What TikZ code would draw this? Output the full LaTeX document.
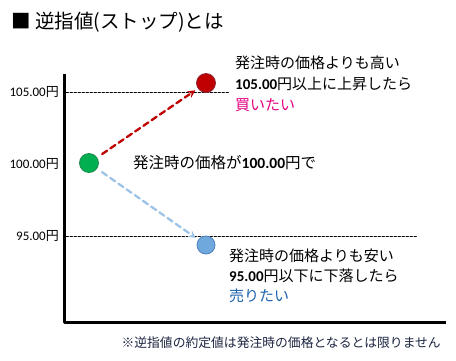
\documentclass[tikz,border=0pt]{standalone}
\usepackage{fontspec}
\setmainfont{Noto Sans CJK JP}
\newfontfamily\numfont{Carlito}
\definecolor{buyred}{HTML}{C00000}
\definecolor{buyedge}{HTML}{8C2A3A}
\definecolor{startgreen}{HTML}{00B050}
\definecolor{startedge}{HTML}{1E8A4E}
\definecolor{sellblue}{HTML}{6FA8DC}
\definecolor{selledge}{HTML}{4F81BD}
\definecolor{sellarrow}{HTML}{9DC3E6}
\definecolor{buypink}{HTML}{E4007F}
\definecolor{selltext}{HTML}{1B63AE}
\definecolor{notecolor}{HTML}{1C2541}
\tikzset{
  price/.style = {circle, inner sep = 0pt, minimum size = 19pt, line width = 0.8pt},
  level/.style = {line width = 0.7pt, dash pattern = on 2.5pt off 1.5pt},
  ylabel/.style = {anchor = east, inner sep = 0pt, font = \fontsize{13}{15}\selectfont},
  move/.style = {line width = 2.3pt, dash pattern = on 6pt off 4pt, -stealth, shorten <= 6pt, shorten >= 3pt}
}
\newcommand{\num}[1]{{\numfont\bfseries #1}}
\begin{document}
\begin{tikzpicture}[x = 1pt, y = -1pt, line join = round, line cap = round]
  \useasboundingbox (0, 0) rectangle (456, 360);

  \node[anchor = west, inner sep = 0pt, font = \fontsize{19.5}{24}\selectfont] (title) at (11, 22) {■ 逆指値(ストップ)とは};

  \coordinate (top) at (64, 74);
  \coordinate (origin) at (64, 322);
  \coordinate (right) at (446, 322);
  \draw[line width = 3pt, line cap = butt] (top) -- (origin) -- (right);

  \coordinate (hi) at (66, 92);
  \coordinate (mid) at (66, 164);
  \coordinate (lo) at (66, 236);
  \draw[level] (hi) -- +(163, 0);
  \draw[level] (lo) -- +(351, 0);

  \node[ylabel] (hilabel) at (59, 92) {\num{\mdseries 105.00}円};
  \node[ylabel] (midlabel) at (59, 164) {\num{\mdseries 100.00}円};
  \node[ylabel] (lolabel) at (59, 236) {\num{\mdseries 95.00}円};

  \node[price, fill = startgreen, draw = startedge] (start) at (89, 163) {};
  \node[price, fill = buyred, draw = buyedge] (buy) at (206, 83) {};
  \node[price, fill = sellblue, draw = selledge, minimum size = 18pt] (sell) at (206, 245) {};

  \draw[move, buyred] (start) -- (buy);
  \draw[move, sellarrow] (start) -- (sell);

  \node[anchor = west, inner sep = 0pt, font = \fontsize{15.5}{18}\selectfont] (starttext) at (133, 163) {発注時の価格が\num{100.00}円で};

  \node[anchor = west, align = left, inner sep = 0pt, font = \fontsize{15}{21}\selectfont] (buytext) at (235, 84)
    {発注時の価格よりも高い\\\num{105.00}円以上に上昇したら\\\textcolor{buypink}{買いたい}};
  \node[anchor = west, align = left, inner sep = 0pt, font = \fontsize{15}{20}\selectfont] (selltext) at (229, 276)
    {発注時の価格よりも安い\\\num{95.00}円以下に下落したら\\\textcolor{selltext}{売りたい}};

  \node[anchor = east, inner sep = 0pt, text = notecolor, font = \fontsize{12.8}{15}\selectfont] (note) at (441, 343) {※逆指値の約定値は発注時の価格となるとは限りません};
\end{tikzpicture}
\end{document}
